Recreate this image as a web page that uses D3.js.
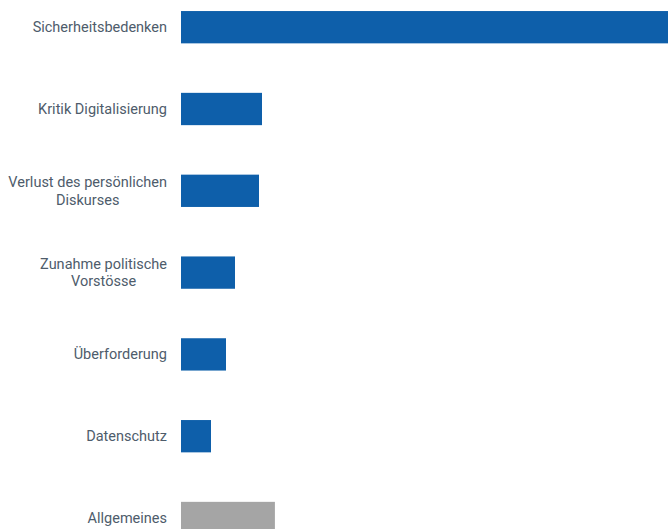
<!DOCTYPE html>
<html>
<head>
<meta charset="utf-8">
<title>Bedenken</title>
<script src="https://d3js.org/d3.v7.min.js"></script>
<style>
  body { margin: 0; background: #fff; }
  svg { display: block; }
  .label { font-family: Roboto, sans-serif; font-size: 14.5px; fill: #4e5c6b; }
</style>
</head>
<body>
<script>
// categories (label lines) and values
var categories = [
  "Sicherheitsbedenken",
  "Kritik Digitalisierung",
  "Verlust des persönlichen Diskurses",
  "Zunahme politische Vorstösse",
  "Überforderung",
  "Datenschutz",
  "Allgemeines"
];
var labelLines = [
  ["Sicherheitsbedenken"],
  ["Kritik Digitalisierung"],
  ["Verlust des persönlichen", "Diskurses"],
  ["Zunahme politische", "Vorstösse"],
  ["Überforderung"],
  ["Datenschutz"],
  ["Allgemeines"]
];
var values = [163, 27, 26, 18, 15, 10, 31.3];
var barColors = ["#0e5faa", "#0e5faa", "#0e5faa", "#0e5faa", "#0e5faa", "#0e5faa", "#a5a5a5"];

var width = 668, height = 529;

var svg = d3.select("body").append("svg")
  .attr("width", width)
  .attr("height", height);

var x = d3.scaleLinear()
  .domain([0, 163])
  .range([181, 670]);

var y = d3.scaleBand()
  .domain(categories)
  .range([-13.7, 558.9])
  .paddingInner(0.605)
  .paddingOuter(0.3025);

svg.append("g")
  .selectAll("rect")
  .data(categories)
  .enter().append("rect")
  .attr("x", x(0))
  .attr("y", function(d) { return y(d); })
  .attr("width", function(d, i) { return x(values[i]) - x(0); })
  .attr("height", y.bandwidth())
  .attr("fill", function(d, i) { return barColors[i]; });

var labelRight = 167;

var label = svg.append("g")
  .selectAll("text")
  .data(categories)
  .enter().append("text")
  .attr("class", "label")
  .attr("y", function(d) { return y(d) + y.bandwidth() / 2; });

// lines are centred on each other, the block is right-aligned to the bars
label.each(function(d, i) {
  var lines = labelLines[i];
  var t = d3.select(this);
  lines.forEach(function(line, j) {
    t.append("tspan")
      .attr("dy", j === 0 ? (0.35 - (lines.length - 1) * 0.6) + "em" : "1.2em")
      .text(line);
  });
  var w = 0;
  t.selectAll("tspan").each(function() {
    w = Math.max(w, this.getComputedTextLength());
  });
  t.attr("text-anchor", "middle");
  t.selectAll("tspan").attr("x", labelRight - w / 2);
});
</script>
</body>
</html>
